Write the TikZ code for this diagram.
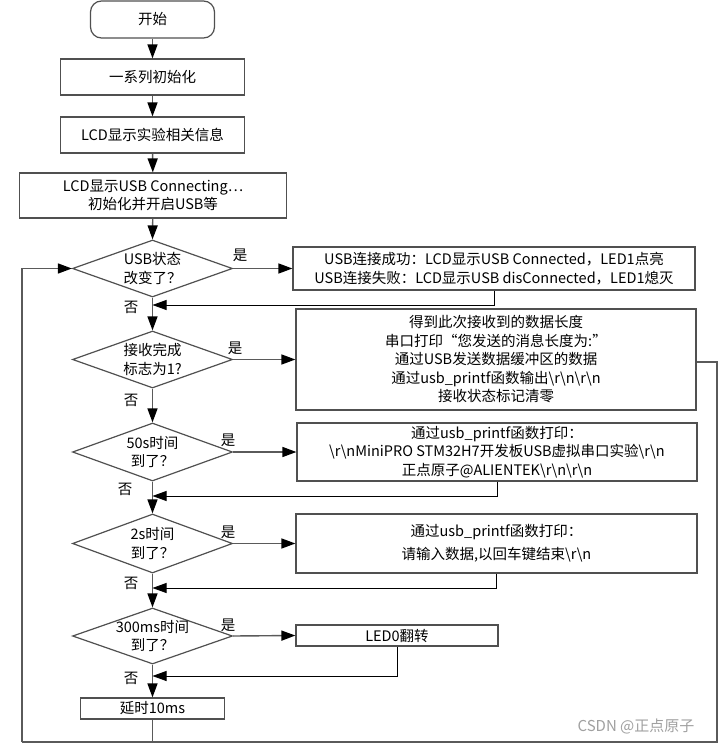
\documentclass[tikz,border=0pt]{standalone}
\usepackage{fontspec}
\setmainfont{Noto Sans CJK SC}
\usetikzlibrary{shapes.geometric,arrows.meta}
\newcommand\bsl{\textbackslash}
\definecolor{boxgray}{HTML}{505050}
\definecolor{linegray}{HTML}{5A5A5A}
\definecolor{wmgray}{HTML}{A0A0A0}
\begin{document}
\begin{tikzpicture}[x=1pt,y=-1pt,
  txt/.style={font=\fontsize{14.5}{18.5}\selectfont,align=center,inner sep=0pt},
  box/.style={txt,draw=boxgray,line width=1.2pt,fill=white,rectangle},
  term/.style={box,rounded corners=11pt},
  dia/.style={diamond,draw=boxgray,line width=1.2pt,fill=white,inner sep=0pt,aspect=2.8},
  flow/.style={draw=linegray,line width=1.4pt,-{Triangle[length=14pt,width=10pt,color=black]}},
  ret/.style={draw=black,line width=0.8pt,-{Triangle[length=14pt,width=10pt,color=black]}},
  plain/.style={draw=linegray,line width=1.4pt},
  lab/.style={txt}
]
\useasboundingbox (0,0) rectangle (720,744);
\fill[white] (0,0) rectangle (720,744);

% main column
\node[term,minimum width=124pt,minimum height=37pt] (start) at (152.5,19.5) {开始};
\node[box,minimum width=184pt,minimum height=36pt] (init) at (152.5,77) {一系列初始化};
\node[box,minimum width=184pt,minimum height=36pt] (lcd) at (152.5,135) {LCD显示实验相关信息};
\node[box,minimum width=267pt,minimum height=45pt] (conn) at (153,195.5) {LCD显示USB Connecting…\\初始化并开启USB等};

\node[dia,minimum width=160pt,minimum height=57pt] (d1) at (152.5,268.5) {};
\node[txt] (d1t) at (d1) {USB状态\\改变了？};
\node[dia,minimum width=160pt,minimum height=57pt] (d2) at (152.5,359.5) {};
\node[txt] (d2t) at (d2) {接收完成\\标志为1?};
\node[dia,minimum width=160pt,minimum height=58pt] (d3) at (152.5,452) {};
\node[txt] (d3t) at (d3) {50s时间\\到了？};
\node[dia,minimum width=160pt,minimum height=59pt] (d4) at (152.5,543.5) {};
\node[txt] (d4t) at (d4) {2s时间\\到了？};
\node[dia,minimum width=160pt,minimum height=56pt] (d5) at (152.5,636) {};
\node[txt] (d5t) at (d5) {300ms时间\\到了？};
\node[box,minimum width=144pt,minimum height=21pt] (delay) at (152.5,708.5) {延时10ms};

% right column
\node[box,minimum width=402pt,minimum height=43pt] (b1) at (494,268.5) {USB连接成功：LCD显示USB Connected，LED1点亮\\USB连接失败：LCD显示USB disConnected，LED1熄灭};
\node[box,minimum width=400pt,minimum height=101pt] (b2) at (496,359.5) {得到此次接收到的数据长度\\串口打印“您发送的消息长度为:”\\通过USB发送数据缓冲区的数据\\通过usb\_printf函数输出\bsl r\bsl n\bsl r\bsl n\\接收状态标记清零};
\node[box,minimum width=400pt,minimum height=58pt] (b3) at (497,452) {通过usb\_printf函数打印：\\\bsl r\bsl nMiniPRO STM32H7开发板USB虚拟串口实验\bsl r\bsl n\\正点原子@ALIENTEK\bsl r\bsl n\bsl r\bsl n};
\node[box,minimum width=401pt,minimum height=59pt] (b4) at (496.5,543.5) {通过usb\_printf函数打印：\\[4pt]请输入数据,以回车键结束\bsl r\bsl n};
\node[box,minimum width=202pt,minimum height=21pt] (b5) at (397,635.5) {LED0翻转};

% junctions
\coordinate (j1) at (152.5,305);
\coordinate (j3) at (152.5,496);
\coordinate (j4) at (152.5,588);
\coordinate (j5) at (152.5,676);
\coordinate (br) at (717,742);
\coordinate (bl) at (22,742);

% main flow
\draw[flow] (start) -- (init);
\draw[flow] (init) -- (lcd);
\draw[flow] (lcd) -- (conn);
\draw[flow] (conn) -- (d1.north);
\draw[flow] (d1.south) -- (d2.north);
\draw[flow] (d2.south) -- (d3.north);
\draw[flow] (d3.south) -- (d4.north);
\draw[flow] (d4.south) -- (d5.north);
\draw[flow] (d5.south) -- (delay.north);

% yes branches
\draw[flow] (d1.east) -- (b1.west);
\draw[flow] (d2.east) -- (b2.west);
\draw[flow] (d3.east) -- (b3.west);
\draw[flow] (d4.east) -- (b4.west);
\draw[flow] (d5.east) -- (b5.west);

% returns
\draw[ret] (b1.south) |- (j1);
\draw[ret] (b3.south) |- (j3);
\draw[ret] (b4.south) |- (j4);
\draw[ret] (b5.south) |- (j5);

% outer loop
\draw[plain] (b2.east |- 0,362) -| (br) -- (bl);
\draw[plain] (delay.south) -- (delay.south |- bl);
\draw[flow] (bl) |- (d1.west);

% labels
\node[lab] (y1) at (240,255) {是};
\node[lab] (y2) at (235,348) {是};
\node[lab] (y3) at (228,440) {是};
\node[lab] (y4) at (228,532) {是};
\node[lab] (y5) at (228,625) {是};
\node[lab] (n1) at (131,307) {否};
\node[lab] (n2) at (131,400) {否};
\node[lab] (n3) at (125,489) {否};
\node[lab] (n4) at (131,583) {否};
\node[lab] (n5) at (131,678) {否};

\node[txt,text=wmgray,font=\fontsize{15}{18}\selectfont] (wm) at (636,726) {CSDN @正点原子};
\end{tikzpicture}
\end{document}
